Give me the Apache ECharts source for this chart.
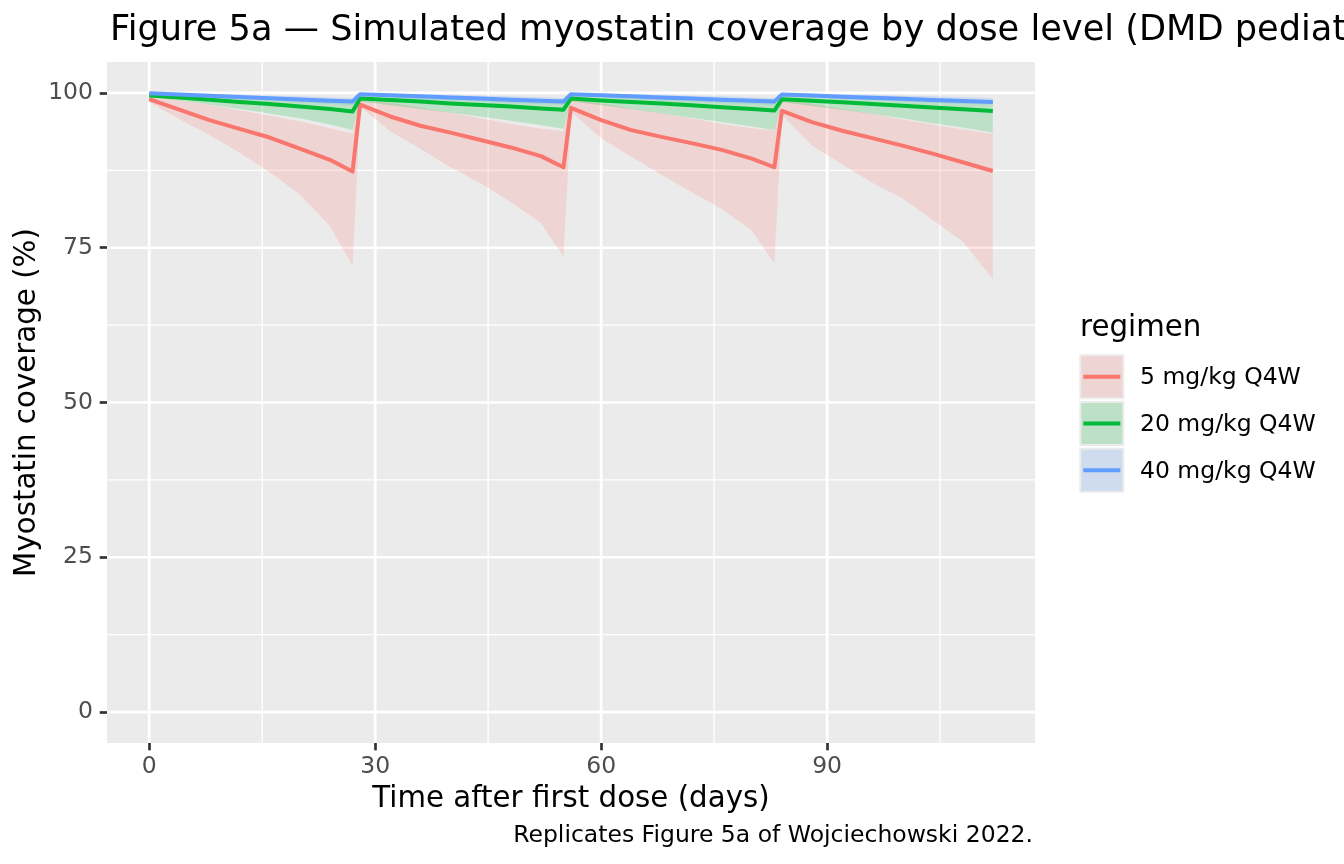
<!DOCTYPE html>
<html>
<head>
<meta charset="utf-8">
<script src="https://cdn.jsdelivr.net/npm/echarts@6/dist/echarts.min.js"></script>
<style>html,body{margin:0;padding:0;background:#fff;}#c{width:1344px;height:864px;}</style>
</head>
<body>
<div id="c"></div>
<script>
const days = [0,4,8,12,16,20,24,27, 28,32,36,40,44,48,52,55, 56,60,64,68,72,76,80,83, 84,88,92,96,100,104,108,112];

const redMed = [99.0,97.3,95.6,94.2,92.8,91.0,89.2,87.3, 98.1,96.2,94.7,93.6,92.4,91.2,89.8,88.0, 97.6,95.6,94.0,92.9,91.9,90.8,89.4,88.0, 97.1,95.3,93.9,92.7,91.5,90.2,88.8,87.4];
const redLo  = [98.5,95.8,93.2,90.4,87.2,83.6,78.5,72.0, 97.8,93.8,91.0,88.0,85.4,82.4,79.0,73.6, 97.0,92.7,89.7,86.8,84.0,81.3,77.8,72.5, 96.5,91.5,88.5,85.5,83.0,79.5,76.0,70.0];
const redHi  = [99.5,98.8,98.0,97.2,96.3,95.4,94.3,93.4, 99.2,98.4,97.6,96.8,95.9,95.0,94.2,93.8, 99.1,98.3,97.5,96.7,95.9,95.0,94.3,93.9, 99.0,98.2,97.4,96.6,95.7,94.9,94.1,93.4];

const grnMed = [99.6,99.25,98.9,98.55,98.2,97.8,97.4,97.0, 99.1,98.85,98.6,98.3,98.05,97.8,97.5,97.3, 99.1,98.8,98.55,98.3,98.0,97.7,97.4,97.15, 99.0,98.75,98.5,98.2,97.95,97.65,97.35,97.1];
const grnLo  = [99.4,98.8,98.1,97.4,96.7,95.9,94.9,94.0, 98.6,98.0,97.4,96.8,96.2,95.5,94.8,94.2, 98.6,98.0,97.4,96.7,96.0,95.3,94.6,94.0, 98.5,97.9,97.3,96.6,95.9,95.1,94.4,93.6];
const grnHi  = [99.85,99.7,99.55,99.4,99.25,99.1,98.95,98.8, 99.7,99.55,99.4,99.25,99.1,98.95,98.8,98.7, 99.7,99.55,99.4,99.25,99.1,98.95,98.8,98.7, 99.7,99.55,99.4,99.25,99.1,98.95,98.8,98.7];

const bluMed = [99.95,99.75,99.55,99.35,99.15,98.95,98.75,98.6, 99.8,99.62,99.45,99.28,99.1,98.92,98.75,98.6, 99.8,99.62,99.45,99.28,99.1,98.92,98.75,98.6, 99.75,99.58,99.4,99.23,99.05,98.88,98.7,98.55];
const bluLo  = [99.9,99.6,99.3,99.0,98.8,98.5,98.2,98.0, 99.6,99.3,99.0,98.8,98.6,98.4,98.2,98.1, 99.6,99.3,99.0,98.8,98.6,98.4,98.2,98.1, 99.6,99.3,99.0,98.8,98.6,98.4,98.2,98.1];
const bluHi  = [100.0,99.9,99.8,99.7,99.55,99.45,99.3,99.2, 100.0,99.9,99.8,99.7,99.55,99.45,99.3,99.2, 100.0,99.9,99.8,99.7,99.55,99.45,99.3,99.2, 100.0,99.9,99.8,99.7,99.55,99.45,99.3,99.2];

const regimens = ['5 mg/kg Q4W','20 mg/kg Q4W','40 mg/kg Q4W'];
const xTicks = [0,30,60,90];
const xMinor = [15,45,75,105];
const yTicks = [0,25,50,75,100];
const yMinor = [12.5,37.5,62.5,87.5];

const colors = ['#F8766D','#00BA38','#619CFF'];
const fills = ['rgba(248,118,109,0.2)','rgba(0,186,56,0.2)','rgba(97,156,255,0.2)'];
const FONT = 'DejaVu Sans';
const LW = 4;

function ribbon(name, lo, hi, fill) {
  return {
    type: 'custom', name: name, silent: true, z: 2, clip: true,
    data: days.map((d, i) => [d, lo[i], hi[i]]),
    encode: { x: 0, y: [1, 2] },
    renderItem: function (params, api) {
      if (params.dataIndex !== 0) return { type: 'group', children: [] };
      const pts = [];
      for (let i = 0; i < days.length; i++) pts.push(api.coord([days[i], hi[i]]));
      for (let i = days.length - 1; i >= 0; i--) pts.push(api.coord([days[i], lo[i]]));
      return { type: 'polygon', shape: { points: pts }, style: { fill: fill, stroke: null } };
    }
  };
}
function line(name, med, color) {
  return {
    type: 'line', name: name, z: 3, showSymbol: false, silent: true, animation: false,
    data: days.map((d, i) => [d, med[i]]),
    lineStyle: { color: color, width: LW, cap: 'butt', join: 'round' },
    itemStyle: { color: color }
  };
}

const gridData = [];
xTicks.forEach(v => gridData.push([v, 50, 0, 1]));
xMinor.forEach(v => gridData.push([v, 50, 0, 0]));
yTicks.forEach(v => gridData.push([50, v, 1, 1]));
yMinor.forEach(v => gridData.push([50, v, 1, 0]));

const gridSeries = {
  type: 'custom', silent: true, z: 1,
  data: gridData,
  renderItem: function (params, api) {
    const cs = params.coordSys;
    const isY = api.value(2) === 1;
    const major = api.value(3) === 1;
    const w = major ? 2.7 : 1.35;
    let shape;
    if (!isY) {
      const px = api.coord([api.value(0), 50])[0];
      shape = { x1: px, y1: cs.y, x2: px, y2: cs.y + cs.height };
    } else {
      const py = api.coord([50, api.value(1)])[1];
      shape = { x1: cs.x, y1: py, x2: cs.x + cs.width, y2: py };
    }
    return { type: 'line', shape: shape, style: { stroke: '#FFFFFF', lineWidth: w } };
  }
};

const legendGraphics = [
  { type: 'text', x: 1080, y: 328, style: { text: 'regimen', font: '29.3px "' + FONT + '"', fill: '#000', verticalAlign: 'middle', align: 'left' } }
];
regimens.forEach((r, i) => {
  const y0 = 354.3 + i * 46.7;
  legendGraphics.push({ type: 'rect', shape: { x: 1079.3, y: y0, width: 45, height: 45 }, style: { fill: '#EBEBEB' }, z: 10 });
  legendGraphics.push({ type: 'rect', shape: { x: 1081.3, y: y0 + 2, width: 41, height: 41 }, style: { fill: fills[i] }, z: 11 });
  legendGraphics.push({ type: 'line', shape: { x1: 1083.3, y1: y0 + 22.5, x2: 1120.3, y2: y0 + 22.5 }, style: { stroke: colors[i], lineWidth: LW }, z: 12 });
  legendGraphics.push({ type: 'text', x: 1140, y: y0 + 24, style: { text: r, font: '23.5px "' + FONT + '"', fill: '#000', verticalAlign: 'middle', align: 'left' }, z: 12 });
});

const chart = echarts.init(document.getElementById('c'), null, { renderer: 'canvas' });
chart.setOption({
  animation: false,
  backgroundColor: '#FFFFFF',
  textStyle: { fontFamily: FONT },
  grid: { left: 107, right: 309, top: 62, bottom: 121, show: true, backgroundColor: '#EBEBEB', borderWidth: 0 },
  xAxis: {
    type: 'value', min: -5.6, max: 117.6,
    splitLine: { show: false }, axisLine: { show: false, onZero: false },
    axisTick: { show: true, customValues: xTicks, length: 7.3, lineStyle: { color: '#333333', width: 2.7 } },
    axisLabel: { customValues: xTicks, color: '#4D4D4D', fontSize: 23.5, margin: 12, fontFamily: FONT }
  },
  yAxis: {
    type: 'value', min: -5, max: 105,
    splitLine: { show: false }, axisLine: { show: false, onZero: false },
    axisTick: { show: true, customValues: yTicks, length: 7.3, lineStyle: { color: '#333333', width: 2.7 } },
    axisLabel: { customValues: yTicks, color: '#4D4D4D', fontSize: 23.5, margin: 14, fontFamily: FONT }
  },
  graphic: [
    { type: 'text', x: 110, y: 31, style: { text: 'Figure 5a \u2014 Simulated myostatin coverage by dose level (DMD pediatric)', font: '35.2px "' + FONT + '"', fill: '#000', align: 'left', verticalAlign: 'middle' } },
    { type: 'text', x: 571, y: 799, style: { text: 'Time after first dose (days)', font: '29.3px "' + FONT + '"', fill: '#000', align: 'center', verticalAlign: 'middle' } },
    { type: 'text', x: 27, y: 402.5, rotation: Math.PI / 2, style: { text: 'Myostatin coverage (%)', font: '29.3px "' + FONT + '"', fill: '#000', align: 'center', verticalAlign: 'middle' } },
    { type: 'text', x: 1033, y: 836, style: { text: 'Replicates Figure 5a of Wojciechowski 2022.', font: '23.5px "' + FONT + '"', fill: '#000', align: 'right', verticalAlign: 'middle' } }
  ].concat(legendGraphics),
  series: [
    gridSeries,
    ribbon(regimens[0], redLo, redHi, fills[0]),
    ribbon(regimens[1], grnLo, grnHi, fills[1]),
    ribbon(regimens[2], bluLo, bluHi, fills[2]),
    line(regimens[0], redMed, colors[0]),
    line(regimens[1], grnMed, colors[1]),
    line(regimens[2], bluMed, colors[2])
  ]
});
</script>
</body>
</html>
